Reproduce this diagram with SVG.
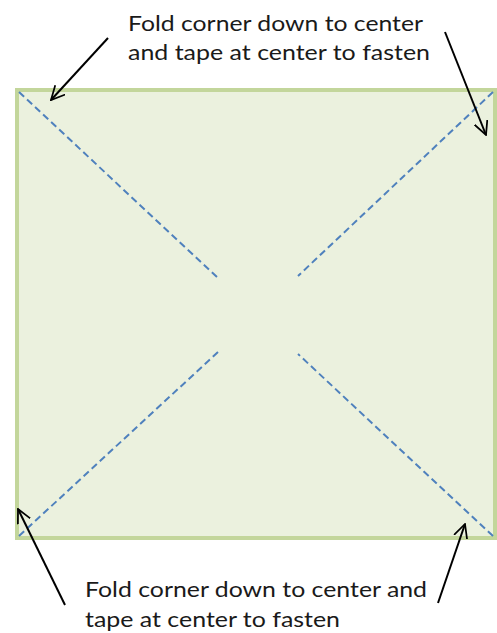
<svg xmlns="http://www.w3.org/2000/svg" width="497" height="633" viewBox="0 0 497 633">
<defs>
<style>
.lbl{font-family:Lato,"Open Sans","Liberation Sans",sans-serif;font-size:22px;fill:#1a1a1a}
.fold{stroke:#4f81bd;stroke-width:2;stroke-dasharray:7 4;fill:none}
.arr{stroke:#000;stroke-width:2;fill:none;marker-end:url(#ah)}
</style>
<marker id="ah" viewBox="0 0 12 12" refX="11" refY="6" markerWidth="15" markerHeight="15" orient="auto" markerUnits="userSpaceOnUse">
<path d="M0,0.5 L11,6 L0,11.5" fill="none" stroke="#000" stroke-width="1.4"/>
</marker>
</defs>
<g id="sheet">
<rect x="17" y="90" width="478" height="448" fill="#ebf1de" stroke="#c3d69b" stroke-width="4"/>
</g>
<g id="folds">
<line class="fold" x1="19" y1="92" x2="218" y2="278"/>
<line class="fold" x1="493" y1="92" x2="298" y2="276"/>
<line class="fold" x1="19" y1="536" x2="218" y2="352"/>
<line class="fold" x1="493" y1="536" x2="298" y2="354"/>
</g>
<g id="connectors">
<line class="arr" x1="108" y1="38" x2="51" y2="100"/>
<line class="arr" x1="445" y1="32" x2="486" y2="135"/>
<line class="arr" x1="65" y1="605" x2="18" y2="509"/>
<line class="arr" x1="438" y1="603" x2="465" y2="524"/>
</g>
<g id="label-top">
<text class="lbl" x="128" y="31" textLength="295" lengthAdjust="spacingAndGlyphs">Fold corner down to center</text>
<text class="lbl" x="128" y="60" textLength="302" lengthAdjust="spacingAndGlyphs">and tape at center to fasten</text>
</g>
<g id="label-bottom">
<text class="lbl" x="85" y="597" textLength="342" lengthAdjust="spacingAndGlyphs">Fold corner down to center and</text>
<text class="lbl" x="85" y="627" textLength="255" lengthAdjust="spacingAndGlyphs">tape at center to fasten</text>
</g>
</svg>
